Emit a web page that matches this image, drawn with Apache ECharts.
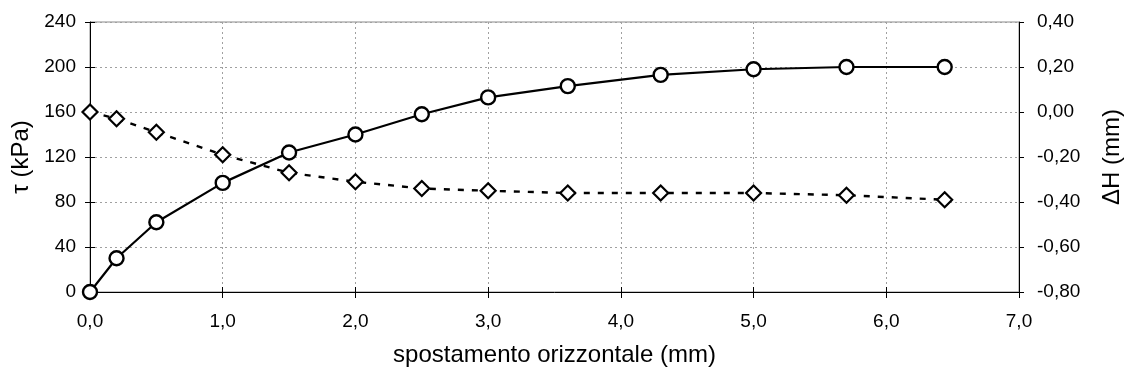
<!DOCTYPE html>
<html>
<head>
<meta charset="utf-8">
<script src="https://cdn.jsdelivr.net/npm/echarts@6/dist/echarts.min.js"></script>
<style>html,body{margin:0;padding:0;background:#fff}#c{width:1127px;height:376px}</style>
</head>
<body>
<div id="c"></div>
<script>
// Data
var xTau = [0.0, 0.2, 0.5, 1.0, 1.5, 2.0, 2.5, 3.0, 3.6, 4.3, 5.0, 5.7, 6.44];
var tau = [0, 30, 62, 97, 124, 140, 158, 173, 183, 193, 198, 200, 200];
var xDH = [0.0, 0.2, 0.5, 1.0, 1.5, 2.0, 2.5, 3.0, 3.6, 4.3, 5.0, 5.7, 6.44];
var dH = [0.00, -0.03, -0.09, -0.19, -0.27, -0.31, -0.34, -0.35, -0.36, -0.36, -0.36, -0.37, -0.39];
var xTickLabels = ['0,0', '1,0', '2,0', '3,0', '4,0', '5,0', '6,0', '7,0'];
var rightTickLabels = ['-0,80', '-0,60', '-0,40', '-0,20', '0,00', '0,20', '0,40'];

var FONT = 'Liberation Sans, Arial, sans-serif';
var chart = echarts.init(document.getElementById('c'), null, {renderer: 'canvas'});

function pairs(xs, ys) { return xs.map(function (x, i) { return [x, ys[i]]; }); }

var gridLine = {show: true, lineStyle: {color: '#a0a0a0', type: [2, 3], width: 1}};

chart.setOption({
  animation: false,
  backgroundColor: '#fff',
  grid: {left: 90, right: 108, top: 22, bottom: 84, show: true, borderColor: '#8a8a8a', borderWidth: 1,
    containLabel: false, outerBoundsMode: 'none'},
  xAxis: [{
    type: 'value', min: 0, max: 7, interval: 1, position: 'bottom',
    name: 'spostamento orizzontale (mm)', nameLocation: 'middle', nameGap: 51,
    nameTextStyle: {fontFamily: FONT, fontSize: 24, color: '#000'},
    axisLine: {show: true, onZero: false, lineStyle: {color: '#000', width: 1}},
    axisTick: {show: true, length: 6, lineStyle: {color: '#000'}},
    axisLabel: {fontFamily: FONT, fontSize: 19, color: '#000', margin: 20,
      formatter: function (v) { return xTickLabels[Math.round(v)]; }},
    splitLine: gridLine
  }, {
    type: 'value', min: 0, max: 7, interval: 1, position: 'bottom',
    axisLine: {show: false}, axisLabel: {show: false}, splitLine: {show: false},
    axisTick: {show: true, inside: true, length: 5, lineStyle: {color: '#000'}}
  }],
  yAxis: [{
    type: 'value', min: 0, max: 240, interval: 40, position: 'left',
    name: 'τ (kPa)', nameLocation: 'middle', nameGap: 56, nameRotate: 90,
    nameTextStyle: {fontFamily: FONT, fontSize: 24, color: '#000'},
    axisLine: {show: true, onZero: false, lineStyle: {color: '#000', width: 1}},
    axisTick: {show: true, length: 5, lineStyle: {color: '#000'}},
    axisLabel: {fontFamily: FONT, fontSize: 19, color: '#000', margin: 14},
    splitLine: gridLine
  }, {
    type: 'value', min: -0.8, max: 0.4, interval: 0.2, position: 'right',
    name: 'ΔH (mm)', nameLocation: 'middle', nameGap: 81, nameRotate: 90,
    nameTextStyle: {fontFamily: FONT, fontSize: 24, color: '#000'},
    axisLine: {show: true, onZero: false, lineStyle: {color: '#000', width: 1}},
    axisTick: {show: true, length: 5, lineStyle: {color: '#000'}},
    axisLabel: {fontFamily: FONT, fontSize: 19, color: '#000', margin: 18,
      formatter: function (v) { return rightTickLabels[Math.round((v + 0.8) / 0.2)]; }},
    splitLine: {show: false}
  }, {
    type: 'value', min: 0, max: 240, interval: 40, position: 'left',
    axisLine: {show: false}, axisLabel: {show: false}, splitLine: {show: false},
    axisTick: {show: true, inside: true, length: 5, lineStyle: {color: '#000'}}
  }, {
    type: 'value', min: -0.8, max: 0.4, interval: 0.2, position: 'right',
    axisLine: {show: false}, axisLabel: {show: false}, splitLine: {show: false},
    axisTick: {show: true, inside: true, length: 5, lineStyle: {color: '#000'}}
  }],
  series: [{
    type: 'line', name: 'τ', xAxisIndex: 0, yAxisIndex: 0,
    data: pairs(xTau, tau),
    symbol: 'circle', symbolSize: 14,
    lineStyle: {color: '#000', width: 2.2},
    itemStyle: {color: '#fff', borderColor: '#000', borderWidth: 2.4},
    z: 3
  }, {
    type: 'line', name: 'ΔH', xAxisIndex: 0, yAxisIndex: 1,
    data: pairs(xDH, dH),
    symbol: 'diamond', symbolSize: [15, 15],
    lineStyle: {color: '#000', width: 2.4, type: [6, 8]},
    itemStyle: {color: '#fff', borderColor: '#000', borderWidth: 2.2},
    z: 2
  }]
});
</script>
</body>
</html>
